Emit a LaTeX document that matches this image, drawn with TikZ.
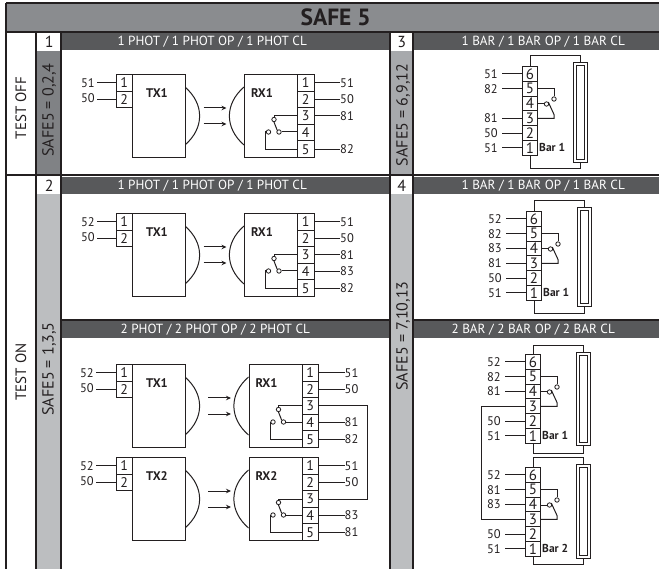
\documentclass[tikz,border=0pt]{standalone}
\usepackage{fontspec}
\setmainfont{PT Sans}
\usetikzlibrary{arrows.meta}
\definecolor{ink}{HTML}{231F20}
\definecolor{band}{HTML}{8A8C8F}
\definecolor{hdrc}{HTML}{58595B}
\definecolor{stripa}{HTML}{808285}
\definecolor{stripb}{HTML}{BCBEC0}
\definecolor{stripc}{HTML}{A7A9AC}
\tikzset{
  x=1pt,y=-1pt,
  grid line/.style={draw=ink,line width=2pt},
  wire/.style={draw=ink,line width=1pt},
  block/.style={draw=ink,line width=1pt,fill=white,inner sep=0pt,anchor=north west},
  pinbox/.style={block,font=\fontsize{14}{14}\selectfont,text=ink,minimum width=16.5pt,minimum height=16.6pt},
  barpin/.style={block,font=\fontsize{15}{15}\selectfont,text=ink,minimum width=15pt,minimum height=14.8pt},
  lab/.style={inner sep=0pt,text=ink,font=\fontsize{12.5}{12.5}\selectfont},
  blocktitle/.style={inner sep=0pt,text=ink,font=\fontsize{12.5}{12.5}\selectfont\bfseries},
  hdr/.style={fill=hdrc,text=white,inner sep=0pt,anchor=north west,font=\fontsize{13.2}{13.2}\selectfont,minimum height=17pt},
  stripbox/.style={inner sep=0pt,anchor=north west,minimum width=24pt},
  numcell/.style={fill=white,text=ink,inner sep=0pt,anchor=north west,minimum width=24pt,minimum height=17pt,font=\fontsize{16}{16}\selectfont},
  sidetext/.style={rotate=90,inner sep=0pt,text=ink,font=\fontsize{16}{16}\selectfont},
  testtext/.style={sidetext,font=\fontsize{15}{15}\selectfont},
  contact/.style={circle,draw=ink,line width=.8pt,fill=white,inner sep=0pt,minimum size=4.4pt},
  ray/.style={draw=ink,line width=1pt,-{Stealth[length=5pt,width=4.5pt]}},
}
% TX block: prefix, top y, title, label 1, label 2, label-end x
\newcommand{\txblock}[6]{%
  \begin{scope}[shift={(0,#2)}]
    \draw[wire] (185,13) .. controls (204.5,30) and (204.5,54) .. (185,71);
    \node[block,minimum width=53pt,minimum height=83pt] (#1b) at (132,0) {};
    \node[pinbox,anchor=north west] (#1p1) at (115.5,0) {1};
    \node[pinbox,anchor=north west] (#1p2) at (115.5,16.6) {2};
    \node[blocktitle] (#1t) at (157,19) {#3};
    \node[lab,anchor=east] (#1a) at (#6,9) {#4};
    \node[lab,anchor=east] (#1c) at (#6,24.5) {#5};
    \draw[wire] (#1a.east) ++(1.5,0) coordinate (#1ae) (#1p1.west) -- (#1p1.west -| #1ae);
    \draw[wire] (#1c.east) ++(1.5,0) coordinate (#1ce) (#1p2.west) -- (#1p2.west -| #1ce);
  \end{scope}}
% RX block: prefix, x offset, top y, title
\newcommand{\rxblock}[4]{%
  \begin{scope}[shift={(#2,#3)}]
    \draw[wire] (244,13) .. controls (224.5,30) and (224.5,54) .. (244,71);
    \node[block,minimum width=53pt,minimum height=83pt] (#1b) at (244,0) {};
    \foreach \n/\t in {1/0,2/16.6,3/33.2,4/49.8,5/66.4}
      \node[pinbox] (#1p\n) at (297,\t) {\n};
    \node[blocktitle] (#1t) at (262,19) {#4};
    \node[contact] (#1k) at (274,45.5) {};
    \node[contact] (#1m) at (279,58) {};
    \node[contact] (#1o) at (268.5,58) {};
    \draw[wire] (#1p3.west) -| (#1k.north);
    \draw[wire] (#1k.south) -- (#1m.north west);
    \draw[wire] (#1p4.west |- #1m.east) -- (#1m.east);
    \draw[wire] (#1p5.west) -| ([xshift=-3pt]#1o.center) -- (#1o.west);
    \coordinate (#1r1) at (203.5,34);
    \coordinate (#1r1e) at (226.5,34);
    \coordinate (#1r2) at (203.5,50);
    \coordinate (#1r2e) at (226.5,50);
    \draw[ray] (#1r1) -- (#1r1e);
    \draw[ray] (#1r2) -- (#1r2e);
  \end{scope}}
% output label on an RX pin: prefix, pin, text
\newcommand{\rxout}[3]{%
  \node[lab,anchor=west] (#1l#2) at ([xshift=25.5pt]#1p#2.east) {#3};
  \draw[wire] (#1p#2.east) -- (#1l#2.west);}
% Bar block: prefix, x offset, top y, title, outer top, outer height, wire top, wire bottom
\newcommand{\barblock}[8]{%
  \begin{scope}[shift={(#2,#3)}]
    \node[block,minimum width=14pt,minimum height=#6 pt] (#1o) at (573,#5) {};
    \pgfmathsetmacro{\innh}{#6-6}
    \pgfmathsetmacro{\innt}{#5+3}
    \node[block,minimum width=8pt,minimum height=\innh pt] (#1i) at (576,\innt) {};
    \foreach \n/\t in {6/0,5/14.8,4/29.6,3/44.4,2/59.2,1/74}
      \node[barpin] (#1p\n) at (522,\t) {\n};
    \node[inner sep=0pt,anchor=west,text=ink,font=\fontsize{11.5}{11.5}\selectfont\bfseries] (#1t) at (539,81.5) {#4};
    \coordinate (#1top) at (530,#7);
    \coordinate (#1bot) at (530,#8);
    \coordinate (#1tr) at (580,#7);
    \coordinate (#1br) at (580,#8);
    \draw[wire] (#1p6.north -| #1top) -- (#1top) -- (#1tr) -- (#1tr |- #1o.north);
    \draw[wire] (#1p1.south -| #1bot) -- (#1bot) -- (#1br) -- (#1br |- #1o.south);
    \node[contact] (#1k) at (554,33) {};
    \node[contact] (#1m) at (546.5,38) {};
    \coordinate (#1u) at (554,48.5);
    \draw[wire] (#1p5.east) -| (#1k.north);
    \draw[wire] (#1p4.east |- #1m.west) -- (#1m.west);
    \draw[wire] (#1p3.east) -| (#1u) -- (#1m.north east);
  \end{scope}}
% input label on a Bar pin: prefix, pin, text
\newcommand{\barin}[3]{%
  \node[lab,anchor=east] (#1l#2) at ([xshift=-24pt]#1p#2.west) {#3};
  \draw[wire] (#1p#2.west) -- ([xshift=3.5pt]#1l#2.east);}
\begin{document}
\begin{tikzpicture}
\useasboundingbox (0,0) rectangle (659,569);
\fill[white] (0,0) rectangle (659,569);
% title band
\node[fill=band,text=ink,inner sep=0pt,anchor=north west,minimum width=653pt,minimum height=29pt,font=\fontsize{23.5}{23.5}\selectfont\bfseries] (title) at (6,3) {\hspace*{6pt}SAFE 5};
% strips
\node[stripbox,fill=stripa,minimum height=124pt] (s1) at (37,51) {};
\node[stripbox,fill=stripb,minimum height=375pt] (s2) at (37,194) {};
\node[stripbox,fill=stripc,minimum height=124pt] (s3) at (389.5,51) {};
\node[stripbox,fill=stripb,minimum height=375pt] (s4) at (389.5,194) {};
% headers
\node[hdr,minimum width=328pt] (h1) at (62,33) {\hspace*{-28pt}1 PHOT / 1 PHOT OP / 1 PHOT CL};
\node[hdr,minimum width=328pt] (h2) at (62,177) {\hspace*{-28pt}1 PHOT / 1 PHOT OP / 1 PHOT CL};
\node[hdr,minimum width=328pt] (h5) at (62,321) {\hspace*{-22pt}2 PHOT / 2 PHOT OP / 2 PHOT CL};
\node[hdr,minimum width=246pt] (h3) at (413,33) {\hspace*{14pt}1 BAR / 1 BAR OP / 1 BAR CL};
\node[hdr,minimum width=246pt] (h4) at (413,177) {\hspace*{14pt}1 BAR / 1 BAR OP / 1 BAR CL};
\node[hdr,minimum width=246pt] (h6) at (413,321) {\hspace*{-6pt}2 BAR / 2 BAR OP / 2 BAR CL};
% numbers
\node[numcell] (n1) at (37,33) {1};
\node[numcell] (n2) at (37,177) {2};
\node[numcell] (n3) at (389.5,33) {3};
\node[numcell] (n4) at (389.5,177) {4};
% grid lines
\draw[grid line] (6,3) -- (659,3);
\draw[grid line] (6,3) -- (6,569);
\draw[grid line] (6,32) -- (659,32);
\draw[grid line] (6,175.5) -- (659,175.5);
\draw[grid line] (36,32) -- (36,569);
\draw[grid line] (61,32) -- (61,569);
\draw[grid line] (389.5,32) -- (389.5,569);
\draw[grid line] (413,32) -- (413,569);
\draw[grid line] (61,320) -- (389.5,320);
\draw[grid line] (413,320) -- (659,320);
% side texts
\node[testtext] (tf) at (21,108) {TEST OFF};
\node[testtext] (tn) at (21,372) {TEST ON};
\node[sidetext] (a1) at (49,110) {SAFE5 = 0,2,4};
\node[sidetext] (a2) at (49,369) {SAFE5 = 1,3,5};
\node[sidetext] (a3) at (403,115) {SAFE5 = 6,9,12};
\node[sidetext] (a4) at (403,336) {SAFE5 = 7,10,13};
% panel 1
\txblock{A}{74}{TX1}{51}{50}{95}
\rxblock{B}{0}{74}{RX1}
\rxout{B}{1}{51}\rxout{B}{2}{50}\rxout{B}{3}{81}\rxout{B}{5}{82}
% panel 2
\txblock{C}{213}{TX1}{52}{50}{95}
\rxblock{D}{0}{213}{RX1}
\rxout{D}{1}{51}\rxout{D}{2}{50}\rxout{D}{3}{81}\rxout{D}{4}{83}\rxout{D}{5}{82}
% panel 2 phot
\txblock{E}{364}{TX1}{52}{50}{94}
\rxblock{F}{4.5}{364}{RX1}
\rxout{F}{1}{51}\rxout{F}{2}{50}\rxout{F}{4}{81}\rxout{F}{5}{82}
\txblock{G}{457}{TX2}{52}{50}{94}
\rxblock{H}{4.5}{457}{RX2}
\rxout{H}{1}{51}\rxout{H}{2}{50}\rxout{H}{4}{83}\rxout{H}{5}{81}
\coordinate (loopx) at (367,450);
\draw[wire] (Fp3.east) -- (Fp3.east -| loopx) -- (Hp3.east -| loopx) -- (Hp3.east);
% bars
\barblock{J}{0}{66}{Bar 1}{-4}{100}{-10}{103}
\barin{J}{6}{51}\barin{J}{5}{82}\barin{J}{3}{81}\barin{J}{2}{50}\barin{J}{1}{51}
\barblock{K}{4}{211}{Bar 1}{-4}{99}{-10}{103}
\barin{K}{6}{52}\barin{K}{5}{82}\barin{K}{4}{83}\barin{K}{3}{81}\barin{K}{2}{50}\barin{K}{1}{51}
\barblock{L}{3}{354}{Bar 1}{-2}{93}{-8}{99}
\barin{L}{6}{52}\barin{L}{5}{82}\barin{L}{4}{81}\barin{L}{2}{50}\barin{L}{1}{51}
\barblock{M}{3}{467}{Bar 2}{-3}{94}{-10}{97}
\barin{M}{6}{52}\barin{M}{5}{81}\barin{M}{4}{83}\barin{M}{2}{50}\barin{M}{1}{51}
\coordinate (loopb) at (481,460);
\draw[wire] (Lp3.west) -- (Lp3.west -| loopb) -- (Mp3.west -| loopb) -- (Mp3.west);
\end{tikzpicture}
\end{document}
